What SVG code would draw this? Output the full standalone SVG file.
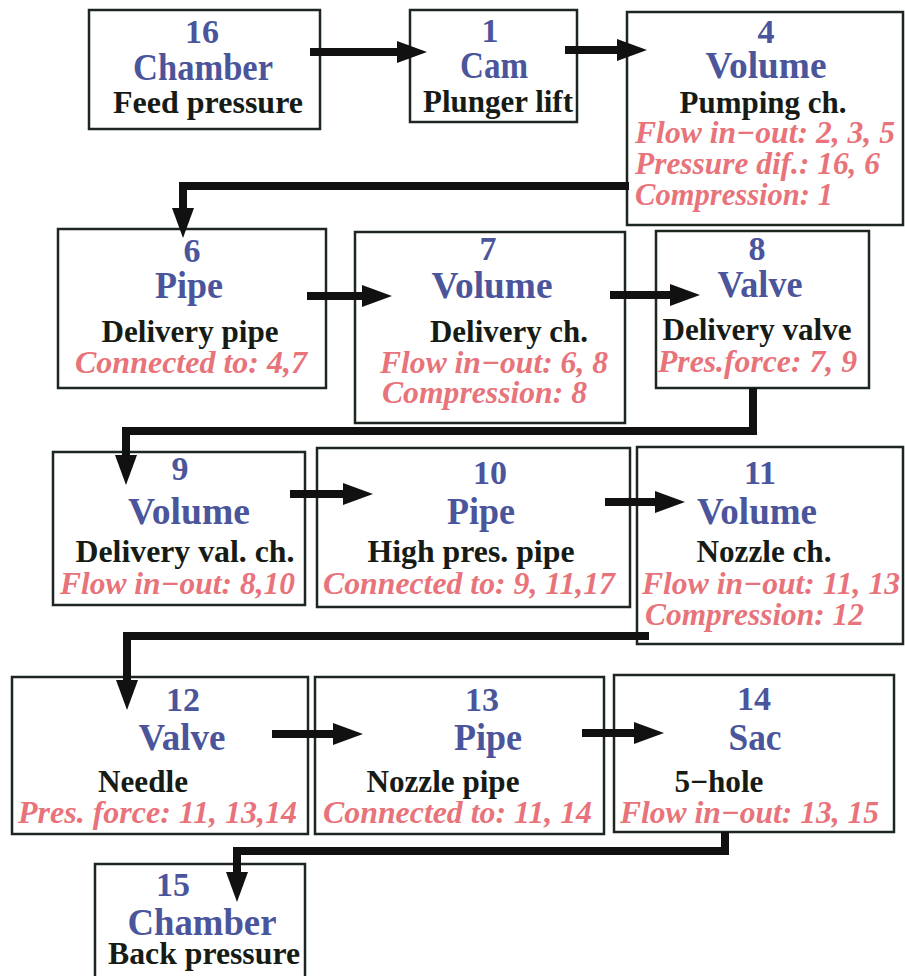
<svg xmlns="http://www.w3.org/2000/svg" width="905" height="976" viewBox="0 0 905 976">
<style>
text{font-family:"Liberation Serif","Times New Roman",serif;font-weight:bold}
.n{fill:#4b559b;font-size:34px;text-anchor:middle}
.t{fill:#4b559b;font-size:38px;text-anchor:middle}
.s{fill:#161b16;font-size:31px;text-anchor:middle}
.r{fill:#e8737a;font-size:31px;font-style:italic}
rect{fill:#fff;stroke:#1e2620;stroke-width:2.5}
.c{fill:none;stroke:#111;stroke-width:8}
</style>
<defs>
<marker id="ah" markerUnits="userSpaceOnUse" markerWidth="32" markerHeight="24" refX="0" refY="11" orient="auto">
<path d="M0,0 L30,11 L0,22 z" fill="#111"/>
</marker>
</defs>
<rect x="0" y="0" width="905" height="976" style="stroke:none"/>

<g id="n16">
<rect x="89" y="10" width="231" height="119"/>
<text class="n" x="202" y="43">16</text>
<text class="t" x="203" y="80" textLength="140" lengthAdjust="spacingAndGlyphs">Chamber</text>
<text class="s" x="208" y="113" textLength="190" lengthAdjust="spacingAndGlyphs">Feed pressure</text>
</g>
<g id="n1">
<rect x="410" y="10" width="167" height="112"/>
<text class="n" x="490" y="42">1</text>
<text class="t" x="494" y="78" textLength="68" lengthAdjust="spacingAndGlyphs">Cam</text>
<text class="s" x="498" y="112" textLength="150" lengthAdjust="spacingAndGlyphs">Plunger lift</text>
</g>
<g id="n4">
<rect x="627" y="12" width="276" height="213"/>
<text class="n" x="766" y="43">4</text>
<text class="t" x="766" y="78" textLength="121" lengthAdjust="spacingAndGlyphs">Volume</text>
<text class="s" x="763" y="113" textLength="167" lengthAdjust="spacingAndGlyphs">Pumping ch.</text>
<text class="r" x="635" y="143" textLength="260" lengthAdjust="spacingAndGlyphs">Flow in−out: 2, 3, 5</text>
<text class="r" x="635" y="174" textLength="245" lengthAdjust="spacingAndGlyphs">Pressure dif.: 16, 6</text>
<text class="r" x="635" y="205" textLength="198" lengthAdjust="spacingAndGlyphs">Compression: 1</text>
</g>
<g id="n6">
<rect x="58" y="229" width="268" height="159"/>
<text class="n" x="192" y="262">6</text>
<text class="t" x="189" y="298" textLength="68" lengthAdjust="spacingAndGlyphs">Pipe</text>
<text class="s" x="190" y="342" textLength="177" lengthAdjust="spacingAndGlyphs">Delivery pipe</text>
<text class="r" x="75" y="373" textLength="232" lengthAdjust="spacingAndGlyphs">Connected to: 4,7</text>
</g>
<g id="n7">
<rect x="355" y="232" width="270" height="191"/>
<text class="n" x="488" y="260">7</text>
<text class="t" x="492" y="298" textLength="121" lengthAdjust="spacingAndGlyphs">Volume</text>
<text class="s" x="509" y="342" textLength="158" lengthAdjust="spacingAndGlyphs">Delivery ch.</text>
<text class="r" x="380" y="373" textLength="228" lengthAdjust="spacingAndGlyphs">Flow in−out: 6, 8</text>
<text class="r" x="382" y="403" textLength="205" lengthAdjust="spacingAndGlyphs">Compression: 8</text>
</g>
<g id="n8">
<rect x="656" y="231" width="213" height="157"/>
<text class="n" x="757" y="260">8</text>
<text class="t" x="760" y="297" textLength="85" lengthAdjust="spacingAndGlyphs">Valve</text>
<text class="s" x="757" y="340" textLength="189" lengthAdjust="spacingAndGlyphs">Delivery valve</text>
<text class="r" x="658" y="372" textLength="199" lengthAdjust="spacingAndGlyphs">Pres.force: 7, 9</text>
</g>
<g id="n9">
<rect x="53" y="452" width="252" height="153"/>
<text class="n" x="180" y="480">9</text>
<text class="t" x="189" y="524" textLength="122" lengthAdjust="spacingAndGlyphs">Volume</text>
<text class="s" x="185" y="562" textLength="219" lengthAdjust="spacingAndGlyphs">Delivery val. ch.</text>
<text class="r" x="60" y="594" textLength="235" lengthAdjust="spacingAndGlyphs">Flow in−out: 8,10</text>
</g>
<g id="n10">
<rect x="317" y="448" width="313" height="159"/>
<text class="n" x="490" y="484">10</text>
<text class="t" x="481" y="524" textLength="68" lengthAdjust="spacingAndGlyphs">Pipe</text>
<text class="s" x="471" y="562" textLength="207" lengthAdjust="spacingAndGlyphs">High pres. pipe</text>
<text class="r" x="323" y="594" textLength="292" lengthAdjust="spacingAndGlyphs">Connected to: 9, 11,17</text>
</g>
<g id="n11">
<rect x="637" y="447" width="266" height="197"/>
<text class="n" x="760" y="484">11</text>
<text class="t" x="757" y="524" textLength="120" lengthAdjust="spacingAndGlyphs">Volume</text>
<text class="s" x="764" y="562" textLength="135" lengthAdjust="spacingAndGlyphs">Nozzle ch.</text>
<text class="r" x="642" y="594" textLength="258" lengthAdjust="spacingAndGlyphs">Flow in−out: 11, 13</text>
<text class="r" x="645" y="625" textLength="219" lengthAdjust="spacingAndGlyphs">Compression: 12</text>
</g>
<g id="n12">
<rect x="12" y="677" width="296" height="157"/>
<text class="n" x="183" y="711">12</text>
<text class="t" x="182" y="750" textLength="87" lengthAdjust="spacingAndGlyphs">Valve</text>
<text class="s" x="143" y="792" textLength="90" lengthAdjust="spacingAndGlyphs">Needle</text>
<text class="r" x="18" y="823" textLength="279" lengthAdjust="spacingAndGlyphs">Pres. force: 11, 13,14</text>
</g>
<g id="n13">
<rect x="315" y="677" width="289" height="157"/>
<text class="n" x="482" y="711">13</text>
<text class="t" x="488" y="750" textLength="68" lengthAdjust="spacingAndGlyphs">Pipe</text>
<text class="s" x="443" y="792" textLength="153" lengthAdjust="spacingAndGlyphs">Nozzle pipe</text>
<text class="r" x="323" y="823" textLength="269" lengthAdjust="spacingAndGlyphs">Connected to: 11, 14</text>
</g>
<g id="n14">
<rect x="614" y="675" width="280" height="157"/>
<text class="n" x="754" y="710">14</text>
<text class="t" x="755" y="750" textLength="53" lengthAdjust="spacingAndGlyphs">Sac</text>
<text class="s" x="719" y="792" textLength="89" lengthAdjust="spacingAndGlyphs">5−hole</text>
<text class="r" x="620" y="823" textLength="259" lengthAdjust="spacingAndGlyphs">Flow in−out: 13, 15</text>
</g>
<g id="n15">
<rect x="95" y="864" width="210" height="140"/>
<text class="n" x="173" y="896">15</text>
<text class="t" x="202" y="935" textLength="149" lengthAdjust="spacingAndGlyphs">Chamber</text>
<text class="s" x="204" y="964" textLength="192" lengthAdjust="spacingAndGlyphs">Back pressure</text>
</g>

<g id="connectors">
<path class="c" d="M310,52 H397" marker-end="url(#ah)"/>
<path class="c" d="M565,50 H617" marker-end="url(#ah)"/>
<path class="c" d="M629,186 H183 V208" marker-end="url(#ah)"/>
<path class="c" d="M307,296 H362" marker-end="url(#ah)"/>
<path class="c" d="M610,295 H670" marker-end="url(#ah)"/>
<path class="c" d="M753,388 V431 H126 V455" marker-end="url(#ah)"/>
<path class="c" d="M290,494 H343" marker-end="url(#ah)"/>
<path class="c" d="M605,502 H655" marker-end="url(#ah)"/>
<path class="c" d="M649,636 H127 V680" marker-end="url(#ah)"/>
<path class="c" d="M272,734 H333" marker-end="url(#ah)"/>
<path class="c" d="M582,733 H634" marker-end="url(#ah)"/>
<path class="c" d="M725,832 V851 H237 V872" marker-end="url(#ah)"/>
</g>
</svg>
